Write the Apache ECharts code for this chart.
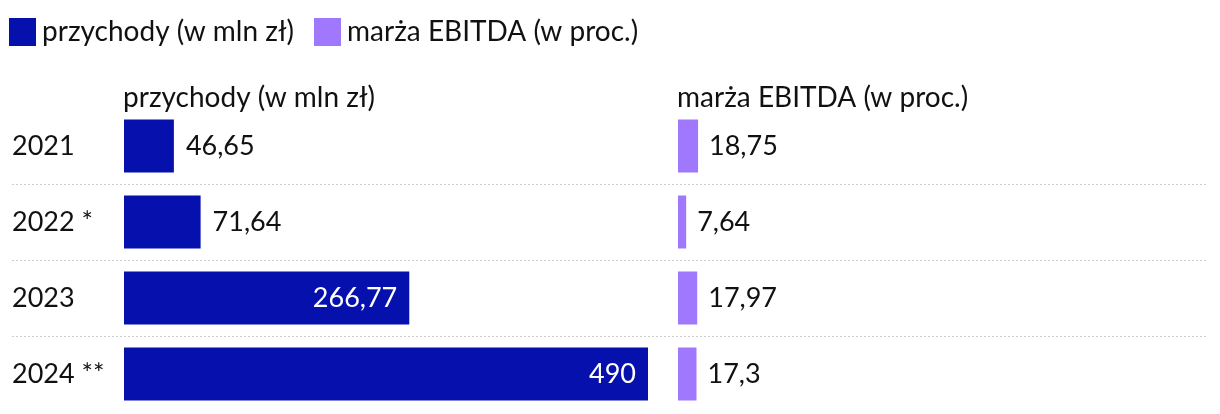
<!DOCTYPE html>
<html><head><meta charset="utf-8">
<script src="https://cdn.jsdelivr.net/npm/echarts@6/dist/echarts.min.js"></script>
<style>html,body{margin:0;padding:0;background:#fff}#c{width:1220px;height:414px}</style>
</head><body><div id="c"></div>
<script>
const categories = ['2021', '2022 *', '2023', '2024 **'];
const revenue = [46.65, 71.64, 266.77, 490];
const ebitdaMargin = [18.75, 7.64, 17.97, 17.3];
const seriesNames = ['przychody (w mln zł)', 'marża EBITDA (w proc.)'];
const insideThreshold = 200;

const FONT = 'Lato';
const BLUE = '#0510AD';
const PURPLE = '#A078FE';
const fmt = v => String(v).replace('.', ',');

const chart = echarts.init(document.getElementById('c'), null, {renderer: 'canvas'});
const T = 108, H = 304;
const revData = revenue.map(v => v >= insideThreshold
  ? {value: v, label: {position: 'insideRight', color: '#fff', distance: 12}}
  : {value: v});

chart.setOption({
  animation: false,
  textStyle: {fontFamily: FONT},
  title: [
    {text: seriesNames[0], left: 118, top: 79, textStyle: {fontFamily: FONT, fontSize: 28, fontWeight: 'normal', color: '#111'}},
    {text: seriesNames[1], left: 672, top: 79, textStyle: {fontFamily: FONT, fontSize: 28, fontWeight: 'normal', color: '#111'}}
  ],
  legend: {
    left: 9, top: 18, padding: 0, icon: 'rect', itemWidth: 27, itemHeight: 28, itemGap: 20,
    textStyle: {fontFamily: FONT, fontSize: 28, color: '#111', padding: [0, 0, 0, 1]},
    data: seriesNames
  },
  grid: [
    {left: 124, width: 524, top: T, height: H},
    {left: 678, width: 524, top: T, height: H},
    {left: 12, width: 1196, top: T, height: H}
  ],
  xAxis: [
    {gridIndex: 0, type: 'value', min: 0, max: 490, show: false},
    {gridIndex: 1, type: 'value', min: 0, max: 490, show: false},
    {gridIndex: 2, type: 'value', min: 0, max: 1, show: false}
  ],
  yAxis: [
    {gridIndex: 0, type: 'category', data: categories, inverse: true,
     axisLine: {show: false}, axisTick: {show: false}, splitLine: {show: false},
     axisLabel: {align: 'left', margin: 112, fontFamily: FONT, fontSize: 27, color: '#111'}},
    {gridIndex: 1, type: 'category', data: categories, inverse: true, show: false},
    {gridIndex: 2, type: 'category', data: categories, inverse: true,
     axisLine: {show: false}, axisTick: {show: false}, axisLabel: {show: false},
     splitLine: {show: true, showMinLine: false, showMaxLine: false,
       lineStyle: {type: [2, 2], color: '#cfcfcf', width: 1}}}
  ],
  series: [
    {name: seriesNames[0], type: 'bar', xAxisIndex: 0, yAxisIndex: 0, barWidth: 53,
     itemStyle: {color: BLUE}, data: revData,
     label: {show: true, position: 'right', distance: 12, fontFamily: FONT, fontSize: 27, color: '#111',
       formatter: p => fmt(p.value)}},
    {name: seriesNames[1], type: 'bar', xAxisIndex: 1, yAxisIndex: 1, barWidth: 53,
     itemStyle: {color: PURPLE}, data: ebitdaMargin,
     label: {show: true, position: 'right', distance: 11, fontFamily: FONT, fontSize: 27, color: '#111',
       formatter: p => fmt(p.value)}}
  ]
});
</script></body></html>
